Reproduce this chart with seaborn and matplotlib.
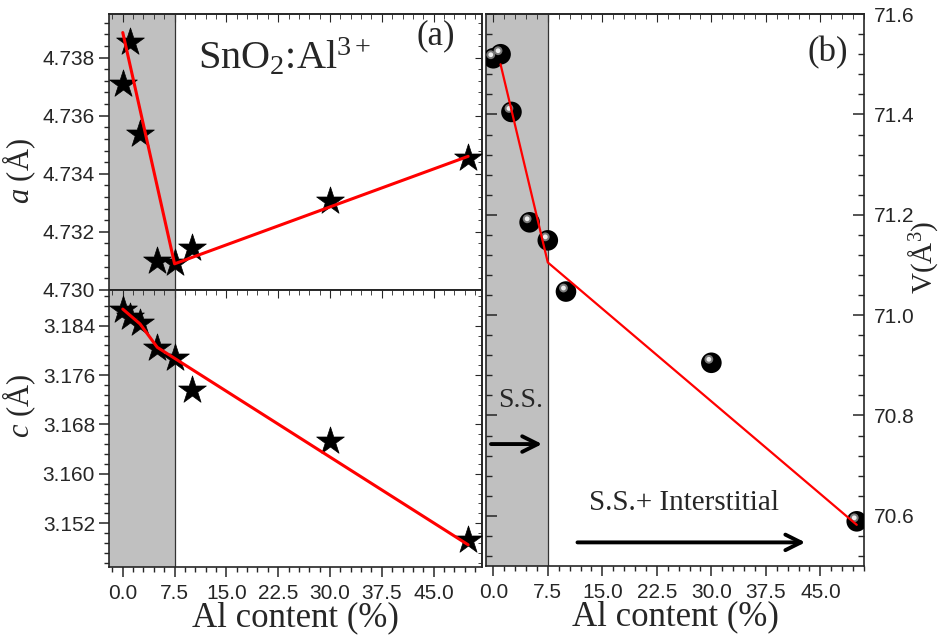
import numpy as np
import pandas as pd
import matplotlib
matplotlib.use("Agg")
import matplotlib.pyplot as plt
import matplotlib.transforms as mtrans
from matplotlib.ticker import MultipleLocator, FormatStrFormatter
import seaborn as sns

# =========================
# DATA
# =========================
al_content = [0, 1, 2.5, 5, 7.5, 10, 30, 50]
lattice_a = [4.73708, 4.73852, 4.73536, 4.73098, 4.73093, 4.73145, 4.73305, 4.73454]
lattice_c = [3.18654, 3.18546, 3.18439, 3.18034, 3.17872, 3.17359, 3.16538, 3.14929]
volume = [71.512, 71.520, 71.405, 71.185, 71.149, 71.047, 70.905, 70.589]

# linear fits (drawn in red)
fit_a_x = [0, 7.5, 50]
fit_a_y = [4.73886, 4.73090, 4.73460]
fit_c_x = [0, 2.5, 5, 50]
fit_c_y = [3.18670, 3.18430, 3.18050, 3.14850]
fit_v_x = [1, 7.5, 50]
fit_v_y = [71.500, 71.105, 70.582]

ss_limit = 7.5
xticks = [0, 7.5, 15, 22.5, 30, 37.5, 45]

# =========================
# STYLE
# =========================
sns.set_style("ticks")
plt.rcParams["font.family"] = ["Liberation Sans", "DejaVu Sans"]
plt.rcParams["mathtext.fontset"] = "custom"
plt.rcParams["mathtext.rm"] = "Liberation Serif"
plt.rcParams["mathtext.it"] = "Liberation Serif:italic"
plt.rcParams["axes.linewidth"] = 1.2
serif = ["Liberation Serif", "DejaVu Serif"]
tick_fs = 15

fig = plt.figure(figsize=(9.45, 6.38), dpi=100)
ax_a = fig.add_axes([0.1153, 0.5455, 0.3947, 0.4326])
ax_c = fig.add_axes([0.1153, 0.1113, 0.3947, 0.4342])
ax_v = fig.add_axes([0.5143, 0.1129, 0.4000, 0.8650])

df = pd.DataFrame({"x": al_content, "a": lattice_a, "c": lattice_c, "V": volume})


def style_x(ax, xlim, labels=True):
    ax.set_xlim(*xlim)
    ax.set_xticks(xticks)
    ax.xaxis.set_minor_locator(MultipleLocator(1.5))
    ax.xaxis.set_major_formatter(FormatStrFormatter("%.1f"))
    ax.tick_params(axis="x", which="major", direction="out", length=7, width=1.1,
                   labelsize=tick_fs, pad=5, labelbottom=labels)
    ax.tick_params(axis="x", which="minor", direction="out", length=3.5, width=1)
    top = ax.secondary_xaxis("top")
    top.set_xticks(xticks)
    top.xaxis.set_minor_locator(MultipleLocator(1.5))
    top.tick_params(which="major", direction="in", length=6, labeltop=False)
    top.tick_params(which="minor", direction="in", length=3.5)


def shade(ax, xlim):
    ax.axvspan(xlim[0], ss_limit, color="#c0c0c0", zorder=0, lw=0)
    ax.axvline(ss_limit, color="#333333", lw=0.9, zorder=0.5)


# =========================
# PANEL (a) - lattice a
# =========================
xl_left = (-2, 52)
shade(ax_a, xl_left)
sns.scatterplot(data=df, x="x", y="a", marker="*", s=440, color="black",
                edgecolor="black", linewidth=0.5, ax=ax_a, zorder=3)
sns.lineplot(x=fit_a_x, y=fit_a_y, color="red", lw=2.2, sort=False, ax=ax_a, zorder=4)
ax_a.set_ylim(4.7300, 4.7395)
ax_a.yaxis.set_major_locator(MultipleLocator(0.002))
ax_a.yaxis.set_minor_locator(MultipleLocator(0.0004))
ax_a.yaxis.set_major_formatter(FormatStrFormatter("%.3f"))
style_x(ax_a, xl_left, labels=False)
ax_a.set_xlabel("")
ax_a.set_ylabel("$\\mathit{a}$ (Å)", fontsize=22, family=serif)
ax_a.yaxis.set_label_coords(-0.19, 0.43)
ax_a.text(0.24, 0.84, "SnO$_2$:Al$^{3+}$", transform=ax_a.transAxes,
          fontsize=29, family=serif, va="center", ha="left")
ax_a.text(0.875, 0.92, "(a)", transform=ax_a.transAxes, fontsize=25,
          family=serif, va="center", ha="center")

# =========================
# PANEL (a) - lattice c
# =========================
shade(ax_c, xl_left)
sns.scatterplot(data=df, x="x", y="c", marker="*", s=440, color="black",
                edgecolor="black", linewidth=0.5, ax=ax_c, zorder=3)
sns.lineplot(x=fit_c_x, y=fit_c_y, color="red", lw=2.2, sort=False, ax=ax_c, zorder=4)
ax_c.set_ylim(3.1449, 3.1898)
ax_c.yaxis.set_major_locator(MultipleLocator(0.008))
ax_c.yaxis.set_minor_locator(MultipleLocator(0.0016))
ax_c.yaxis.set_major_formatter(FormatStrFormatter("%.3f"))
style_x(ax_c, xl_left)
ax_c.set_xlabel("Al content (%)", fontsize=25, family=serif, labelpad=-1)
ax_c.set_ylabel("$\\mathit{c}$ (Å)", fontsize=22, family=serif)
ax_c.yaxis.set_label_coords(-0.19, 0.58)

for ax in (ax_a, ax_c):
    ax.tick_params(axis="y", which="major", direction="out", length=7, width=1.1,
                   labelsize=tick_fs, pad=3)
    ax.tick_params(axis="y", which="minor", direction="out", length=3.5, width=1)
    rt = ax.secondary_yaxis("right")
    rt.set_yticks(ax.get_yticks())
    rt.yaxis.set_minor_locator(ax.yaxis.get_minor_locator())
    rt.tick_params(which="major", direction="in", length=5, labelright=False)
    rt.tick_params(which="minor", direction="in", length=3)

# =========================
# PANEL (b) - volume
# =========================
xl_right = (-1, 51)
shade(ax_v, xl_right)
sns.scatterplot(data=df, x="x", y="V", marker="o", s=220, color="black",
                edgecolor="none", ax=ax_v, zorder=3)
# highlight to give the spheres a shiny look
shift = mtrans.offset_copy(ax_v.transData, fig=fig, x=-2.5, y=3.5, units="dots")
sns.scatterplot(data=df, x="x", y="V", marker="o", s=40, color="#7a7a7a",
                edgecolor="none", ax=ax_v, zorder=3.1, transform=shift)
sns.scatterplot(data=df, x="x", y="V", marker="o", s=12, color="#eeeeee",
                edgecolor="none", ax=ax_v, zorder=3.2, transform=shift)
sns.lineplot(x=fit_v_x, y=fit_v_y, color="red", lw=1.6, sort=False, ax=ax_v, zorder=4)
ax_v.set_ylim(70.5, 71.6)
ax_v.yaxis.set_major_locator(MultipleLocator(0.2))
ax_v.yaxis.set_minor_locator(MultipleLocator(0.04))
ax_v.yaxis.set_major_formatter(FormatStrFormatter("%.1f"))
ax_v.tick_params(axis="y", which="major", direction="in", length=8, width=1.1,
                 left=True, right=True, labelleft=False, labelright=True,
                 labelsize=tick_fs, pad=7)
ax_v.tick_params(axis="y", which="minor", direction="in", length=4, width=1,
                 left=True, right=True)
style_x(ax_v, xl_right)
ax_v.set_xlabel("Al content (%)", fontsize=25, family=serif, labelpad=-1)
ax_v.set_ylabel("V(Å$^3$)", fontsize=21, family=serif)
ax_v.yaxis.set_label_position("right")
ax_v.yaxis.set_label_coords(1.112, 0.56)
ax_v.text(0.903, 0.93, "(b)", transform=ax_v.transAxes, fontsize=25,
          family=serif, va="center", ha="center")

ax_v.text(3.8, 70.83, "S.S.", fontsize=20, family=serif, ha="center", va="center")
ax_v.annotate("", xy=(7.1, 70.743), xytext=(-0.7, 70.743),
              arrowprops=dict(arrowstyle="->", lw=2.8, color="black", mutation_scale=28))
ax_v.text(26.2, 70.625, "S.S.+ Interstitial", fontsize=21, family=serif,
          ha="center", va="center")
ax_v.annotate("", xy=(43.3, 70.547), xytext=(11.2, 70.547),
              arrowprops=dict(arrowstyle="->", lw=2.8, color="black", mutation_scale=28))

for ax in (ax_a, ax_c, ax_v):
    for sp in ax.spines.values():
        sp.set_visible(True)
        sp.set_linewidth(1.2)

plt.savefig("out.png", dpi=100)
